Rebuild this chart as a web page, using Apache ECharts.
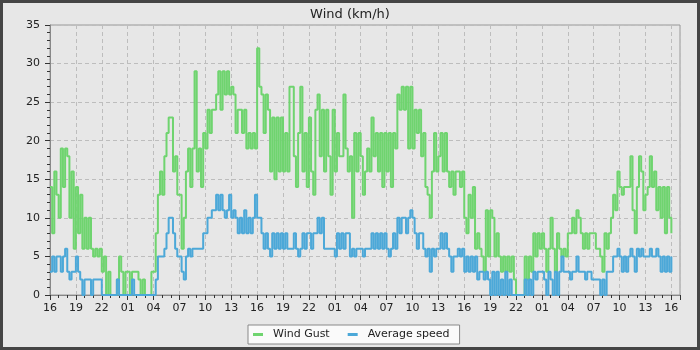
<!DOCTYPE html>
<html>
<head>
<meta charset="utf-8">
<script src="https://cdn.jsdelivr.net/npm/echarts@6/dist/echarts.min.js"></script>
<style>
html,body{margin:0;padding:0;background:#e7e7e7;}
#chart{width:700px;height:350px;}
</style>
</head>
<body>
<div id="chart"></div>
<script>
// Time grid: one value every 15 minutes, starting at 16:00
const startHour = 16;
const stepHours = 0.25;
const xTickLabels = ['16','19','22','01','04','07','10','13','16','19','22','01','04','07','10','13','16','19','22','01','04','07','10','13','16'];
const yTickValues = [0, 5, 10, 15, 20, 25, 30, 35];

// Wind gust (km/h), 4 values per hour
const windGust = [
  14, 8, 16, 13,   10, 19, 14, 19,   18, 10, 16, 6,   14, 8, 13, 6,
  10, 6, 10, 6,    5, 6, 5, 6,       3, 5, 0, 3,      0, 0, 0, 2,
  5, 3, 0, 3,      3, 0, 3, 3,       3, 2, 0, 2,      0, 0, 0, 3,
  3, 8, 13, 16,    13, 18, 21, 23,   23, 16, 18, 13,  13, 6, 10, 16,
  19, 14, 19, 29,  16, 19, 14, 21,   19, 24, 21, 24,  24, 26, 29, 24,
  29, 26, 29, 26,  27, 26, 21, 24,   24, 21, 24, 19,  21, 19, 21, 19,
  32, 27, 26, 21,  26, 24, 16, 23,   15, 23, 16, 23,  16, 21, 16, 27,
  27, 18, 14, 21,  27, 16, 21, 14,   23, 16, 13, 24,  26, 18, 24, 16,
  24, 18, 13, 24,  16, 21, 18, 18,   26, 19, 16, 18,  10, 21, 16, 21,
  18, 13, 16, 19,  16, 23, 18, 21,   16, 21, 14, 21,  16, 21, 14, 21,
  19, 26, 24, 27,  24, 27, 19, 27,   19, 24, 21, 24,  18, 21, 14, 13,
  10, 16, 21, 16,  18, 21, 16, 21,   16, 14, 16, 13,  16, 16, 14, 16,
  10, 8, 13, 10,   14, 6, 8, 6,      5, 3, 11, 5,     11, 10, 5, 8,
  5, 3, 5, 3,      5, 3, 5, 2,       0, 0, 0, 0,      5, 2, 5, 3,
  8, 5, 8, 6,      8, 6, 3, 6,       10, 6, 3, 8,     6, 5, 6, 5,
  8, 8, 10, 8,     11, 10, 8, 6,     8, 6, 8, 8,      8, 6, 6, 5,
  3, 8, 6, 8,      10, 13, 11, 16,   14, 13, 14, 14,  14, 18, 11, 8,
  14, 18, 16, 11,  13, 14, 18, 14,   16, 11, 14, 10,  14, 8, 14, 10,
  8
];

// Average speed (km/h), 4 values per hour
const averageSpeed = [
  3, 5, 3, 5,      5, 3, 5, 6,       3, 2, 3, 3,      5, 3, 2, 0,
  2, 2, 2, 0,      2, 2, 2, 2,       0, 0, 0, 0,      0, 0, 0, 2,
  0, 0, 0, 0,      0, 0, 2, 0,       0, 0, 0, 0,      0, 0, 0, 0,
  0, 2, 5, 5,      5, 6, 8, 10,      10, 8, 6, 5,     5, 3, 2, 5,
  6, 5, 6, 6,      6, 6, 6, 8,       8, 10, 10, 11,   11, 13, 11, 13,
  11, 10, 11, 13,  10, 11, 10, 8,    10, 8, 11, 8,    10, 8, 10, 13,
  10, 10, 8, 6,    8, 6, 5, 8,       6, 8, 6, 8,      6, 8, 6, 6,
  6, 8, 6, 5,      6, 8, 6, 8,       8, 6, 8, 8,      10, 8, 10, 6,
  6, 6, 6, 6,      5, 8, 6, 8,       6, 8, 8, 5,      6, 5, 6, 6,
  6, 5, 6, 6,      6, 8, 6, 8,       6, 8, 6, 8,      6, 5, 6, 8,
  6, 10, 8, 10,    10, 8, 10, 11,    10, 8, 6, 8,     8, 6, 5, 6,
  3, 6, 5, 6,      6, 8, 6, 8,       6, 5, 3, 5,      5, 6, 5, 6,
  3, 5, 3, 5,      3, 5, 2, 3,       3, 2, 3, 2,      0, 3, 0, 3,
  0, 2, 0, 3,      0, 2, 0, 0,       0, 0, 0, 0,      2, 0, 2, 0,
  3, 2, 3, 3,      3, 2, 0, 3,       2, 0, 3, 0,      3, 5, 3, 3,
  3, 2, 3, 3,      5, 3, 3, 3,       2, 3, 3, 2,      2, 2, 2, 0,
  2, 0, 3, 3,      3, 5, 5, 6,       5, 3, 5, 3,      5, 6, 5, 3,
  6, 5, 6, 5,      5, 5, 6, 5,       5, 6, 5, 3,      5, 3, 5, 3,
  5
];

const seriesNames = ['Wind Gust', 'Average speed'];
const seriesColors = ['#6fd46f', '#4ca8d8'];

const toPoints = arr => arr.map((v, i) => [i * stepHours, v]);

const chart = echarts.init(document.getElementById('chart'), null, {renderer: 'canvas'});
const font = 'DejaVu Sans';
chart.setOption({
  animation: false,
  backgroundColor: '#e7e7e7',
  title: {
    text: 'Wind (km/h)', left: 'center', top: 3,
    textStyle: {fontFamily: font, fontSize: 13, fontWeight: 'normal', color: '#222'}
  },
  legend: {
    data: seriesNames,
    left: 248, top: 325,
    orient: 'horizontal',
    backgroundColor: '#fafafa',
    borderColor: '#888', borderWidth: 1, borderRadius: 0,
    padding: [4, 10, 4, 5],
    itemWidth: 10, itemHeight: 3, itemGap: 18,
    icon: 'rect',
    textStyle: {fontFamily: font, fontSize: 11, color: '#222', padding: [0, 0, 0, 5]}
  },
  grid: {
    left: 50, right: 20, top: 25, bottom: 55,
    show: true, borderColor: '#999', borderWidth: 1, backgroundColor: 'transparent'
  },
  xAxis: [{
    type: 'value', min: 0, max: 73, interval: 3,
    axisLine: {show: true, lineStyle: {color: '#888'}},
    axisTick: {show: true, length: 5, lineStyle: {color: '#333'}},
    axisLabel: {
      fontFamily: font, fontSize: 11, color: '#222', margin: 8,
      formatter: v => (Number.isInteger(v / 3) && xTickLabels[v / 3] !== undefined) ? xTickLabels[v / 3] : ''
    },
    splitLine: {show: true, lineStyle: {color: '#bdbdbd', type: [4, 3]}}
  }, {
    type: 'value', min: 0, max: 73, interval: 1, position: 'bottom',
    axisLine: {show: false},
    axisTick: {show: true, length: 3, lineStyle: {color: '#333'}},
    axisLabel: {show: false},
    splitLine: {show: false}
  }],
  yAxis: {
    type: 'value', min: yTickValues[0], max: yTickValues[yTickValues.length - 1], interval: 5,
    axisLine: {show: true, lineStyle: {color: '#888'}},
    axisTick: {show: true, length: 5, lineStyle: {color: '#333'}},
    minorTick: {show: true, splitNumber: 5, length: 3, lineStyle: {color: '#333'}},
    axisLabel: {fontFamily: font, fontSize: 11, color: '#222', margin: 10},
    splitLine: {show: true, lineStyle: {color: '#bdbdbd', type: [4, 3]}}
  },
  series: [{
    name: seriesNames[0], type: 'line', step: 'end', xAxisIndex: 0,
    data: toPoints(windGust), showSymbol: false, symbol: 'none',
    lineStyle: {color: seriesColors[0], width: 2}, itemStyle: {color: seriesColors[0]}
  }, {
    name: seriesNames[1], type: 'line', step: 'end', xAxisIndex: 0,
    data: toPoints(averageSpeed), showSymbol: false, symbol: 'none',
    lineStyle: {color: seriesColors[1], width: 2}, itemStyle: {color: seriesColors[1]}
  }],
  graphic: [{
    type: 'rect', silent: true,
    shape: {x: 1.5, y: 1.5, width: 697, height: 347},
    style: {fill: 'none', stroke: '#454545', lineWidth: 3}
  }]
});
</script>
</body>
</html>
